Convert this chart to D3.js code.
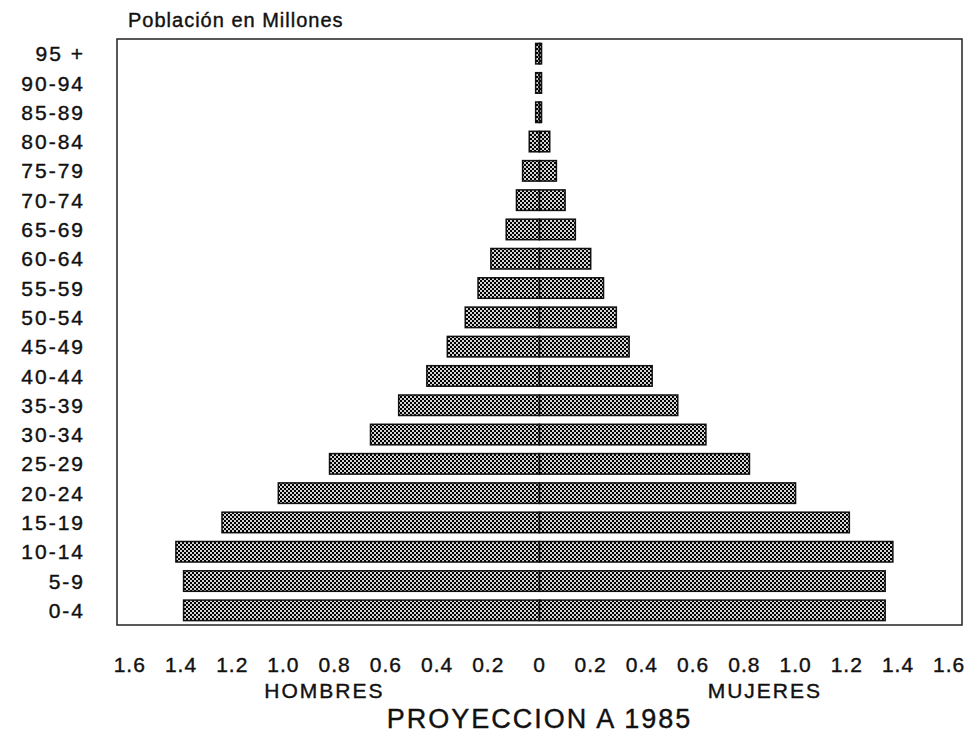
<!DOCTYPE html>
<html>
<head>
<meta charset="utf-8">
<script src="https://cdn.jsdelivr.net/npm/d3@7"></script>
<style>
    body { margin: 0; background: #fff; }
    text { font-family: "Liberation Sans", Arial, sans-serif; fill: #111; stroke: #111; stroke-width: 0.4px; }
</style>
</head>
<body>
<script>
// age groups, bottom to top
var ageGroups = ["0-4", "5-9", "10-14", "15-19", "20-24", "25-29", "30-34", "35-39", "40-44", "45-49",
    "50-54", "55-59", "60-64", "65-69", "70-74", "75-79", "80-84", "85-89", "90-94", "95 +"];

// millions of people
var hombres = [1.39, 1.39, 1.42, 1.24, 1.02, 0.82, 0.66, 0.55, 0.44, 0.36,
    0.29, 0.24, 0.19, 0.13, 0.09, 0.066, 0.04, 0.015, 0.015, 0.015];
var mujeres = [1.35, 1.35, 1.38, 1.21, 1.00, 0.82, 0.65, 0.54, 0.44, 0.35,
    0.30, 0.25, 0.20, 0.14, 0.10, 0.066, 0.04, 0.008, 0.008, 0.008];

var tickValues = [-1.6, -1.4, -1.2, -1.0, -0.8, -0.6, -0.4, -0.2, 0, 0.2, 0.4, 0.6, 0.8, 1.0, 1.2, 1.4, 1.6];

window.onload = function(){

    var w = 976, h = 737;
    var left = 117, right = 962, top = 39, bottom = 625;

    var svg = d3.select("body")
        .append("svg")
        .attr("width", w)
        .attr("height", h);

    // dithered fill like the old printout
    var pat = svg.append("defs").append("pattern")
        .attr("id", "dither")
        .attr("width", 4)
        .attr("height", 4)
        .attr("patternUnits", "userSpaceOnUse");
    pat.append("rect").attr("width", 4).attr("height", 4).style("fill", "#d4d4d4");
    pat.append("rect").attr("width", 2).attr("height", 2).style("fill", "#000");
    pat.append("rect").attr("x", 2).attr("y", 2).attr("width", 2).attr("height", 2).style("fill", "#000");

    var x = d3.scaleLinear()
        .domain([-1.65, 1.65]) // negative side = hombres
        .range([left, right]);

    var y = d3.scaleBand()
        .domain(ageGroups.slice().reverse())
        .range([top, bottom])
        .paddingInner(0.3)
        .paddingOuter(0.15);

    //frame
    svg.append("rect")
        .attr("x", left)
        .attr("y", top)
        .attr("width", right - left)
        .attr("height", bottom - top)
        .style("fill", "none")
        .style("stroke", "#222")
        .style("stroke-width", 1.5);

    var rows = ageGroups.map(function(a, i){
        return {age: a, h: hombres[i], m: mujeres[i]};
    });

    // hombres bars (left)
    svg.selectAll(".hbar")
        .data(rows)
        .enter()
        .append("rect")
        .attr("class", "hbar")
        .attr("x", function(d){ return x(-d.h); })
        .attr("y", function(d){ return y(d.age); })
        .attr("width", function(d){ return x(0) - x(-d.h); })
        .attr("height", y.bandwidth())
        .style("fill", "url(#dither)")
        .style("stroke", "#111")
        .style("stroke-width", 1.5);

    // mujeres bars (right)
    svg.selectAll(".mbar")
        .data(rows)
        .enter()
        .append("rect")
        .attr("class", "mbar")
        .attr("x", x(0))
        .attr("y", function(d){ return y(d.age); })
        .attr("width", function(d){ return x(d.m) - x(0); })
        .attr("height", y.bandwidth())
        .style("fill", "url(#dither)")
        .style("stroke", "#111")
        .style("stroke-width", 1.5);

    // age labels
    svg.selectAll(".age")
        .data(ageGroups)
        .enter()
        .append("text")
        .attr("class", "age")
        .attr("x", 85)
        .attr("y", function(d){ return y(d) + y.bandwidth() / 2; })
        .attr("dy", "0.36em")
        .attr("text-anchor", "end")
        .style("font-size", "21px")
        .style("letter-spacing", "2px")
        .text(function(d){ return d; });

    // x tick labels, no tick lines
    svg.selectAll(".tick")
        .data(tickValues)
        .enter()
        .append("text")
        .attr("class", "tick")
        .attr("x", function(d){ return x(d); })
        .attr("y", 672)
        .attr("text-anchor", "middle")
        .style("font-size", "21px")
        .style("letter-spacing", "1px")
        .text(function(d){ return d === 0 ? "0" : d3.format(".1f")(Math.abs(d)); });

    svg.append("text")
        .attr("x", 128)
        .attr("y", 27)
        .style("font-size", "20px")
        .style("letter-spacing", "1px")
        .text("Población en Millones");

    svg.append("text")
        .attr("x", x(-0.84))
        .attr("y", 698)
        .attr("text-anchor", "middle")
        .style("font-size", "21px")
        .style("letter-spacing", "2px")
        .text("HOMBRES");

    svg.append("text")
        .attr("x", x(0.88))
        .attr("y", 698)
        .attr("text-anchor", "middle")
        .style("font-size", "21px")
        .style("letter-spacing", "2px")
        .text("MUJERES");

    svg.append("text")
        .attr("x", x(0))
        .attr("y", 728)
        .attr("text-anchor", "middle")
        .style("font-size", "27px")
        .style("letter-spacing", "2px")
        .text("PROYECCION A 1985");
};
</script>
</body>
</html>
